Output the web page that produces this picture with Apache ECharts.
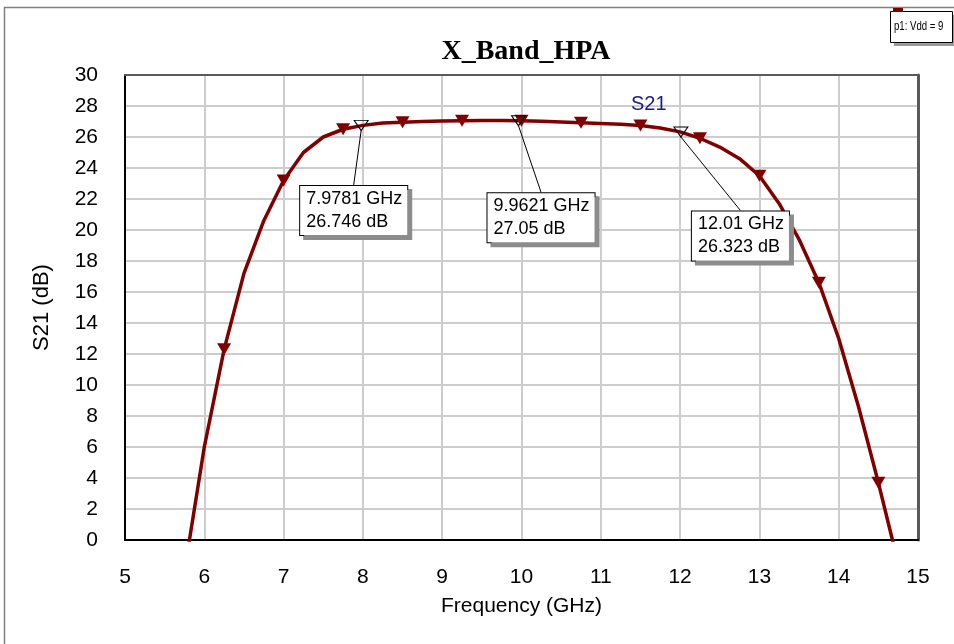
<!DOCTYPE html>
<html>
<head>
<meta charset="utf-8">
<title>X_Band_HPA</title>
<script src="https://cdn.jsdelivr.net/npm/echarts@6/dist/echarts.min.js"></script>
<style>
  html, body { margin: 0; padding: 0; background: #fff; }
  #chart { width: 954px; height: 644px; }
</style>
</head>
<body>
<div id="chart"></div>
<script>
// Swept frequency points (GHz) and measured S21 (dB)
const freqGHz = [5.75, 6.0, 6.25, 6.5, 6.75, 7.0, 7.25, 7.5, 7.75, 8.0, 8.25, 8.5, 8.75, 9.0, 9.25, 9.5,
  9.75, 10.0, 10.25, 10.5, 10.75, 11.0, 11.25, 11.5, 11.75, 12.0, 12.25, 12.5, 12.75, 13.0, 13.25,
  13.5, 13.75, 14.0, 14.25, 14.5, 14.75];
const s21dB = [-2.0, 6.0, 12.3, 17.2, 20.6, 23.2, 25.0, 26.0, 26.5, 26.75, 26.9, 26.95, 27.0, 27.03, 27.05, 27.06,
  27.06, 27.05, 27.02, 26.97, 26.92, 26.87, 26.82, 26.74, 26.58, 26.33, 25.92, 25.35, 24.6, 23.5, 21.7,
  19.4, 16.6, 13.0, 8.6, 3.7, -1.5];

// Trace symbols sit on every third sweep point
const symbolEvery = 3;
const symbolStart = 2;

// Marker readouts
const markerFreq = [7.9781, 9.9621, 12.01];
const markerS21 = [26.746, 27.05, 26.323];

// Axis ticks
const xTicks = { min: 5, max: 15, step: 1 };
const yTicks = { min: 0, max: 30, step: 2 };

// Callout box offsets from each marker (px)
const calloutOffset = [[-61, 85], [-31, 97], [11, 104]];

const curve = freqGHz.map((f, i) => [f, s21dB[i]]);
const traceSymbols = curve.filter((_, i) => i >= symbolStart && (i - symbolStart) % symbolEvery === 0);
const markers = markerFreq.map((f, i) => [f, markerS21[i]]);

const traceColor = '#800000';
const frameColor = '#5a5a5a';
const sans = 'Liberation Sans, Arial, sans-serif';

const chart = echarts.init(document.getElementById('chart'), null, { renderer: 'canvas' });

chart.setOption({
  animation: false,
  backgroundColor: '#fff',
  title: {
    text: 'X_Band_HPA',
    left: 521,
    top: 33,
    textAlign: 'center',
    textStyle: { fontFamily: 'Liberation Serif, Times New Roman, serif', fontWeight: 'bold', fontSize: 28, color: '#000' }
  },
  grid: { left: 125, right: 36, top: 75, bottom: 104 },
  xAxis: [
    {
      type: 'value',
      min: xTicks.min, max: xTicks.max, interval: xTicks.step,
      name: 'Frequency (GHz)',
      nameLocation: 'middle',
      nameGap: 56,
      nameTextStyle: { fontFamily: sans, fontSize: 21, color: '#000' },
      axisLine: { show: true, onZero: false, lineStyle: { color: '#000', width: 2 } },
      axisTick: { show: false },
      axisLabel: { fontFamily: sans, fontSize: 21, color: '#000', margin: 27 },
      splitLine: { show: true, lineStyle: { color: '#cdcdcd', width: 2 } }
    },
    {
      // top edge of the plot frame
      type: 'value', position: 'top',
      min: xTicks.min, max: xTicks.max, interval: xTicks.step,
      axisLine: { show: true, onZero: false, lineStyle: { color: frameColor, width: 2 } },
      axisTick: { show: false }, axisLabel: { show: false }, splitLine: { show: false }
    }
  ],
  yAxis: [
    {
      type: 'value',
      min: yTicks.min, max: yTicks.max, interval: yTicks.step,
      name: 'S21 (dB)',
      nameLocation: 'middle',
      nameGap: 72,
      nameTextStyle: { fontFamily: sans, fontSize: 22, color: '#000' },
      axisLine: { show: true, onZero: false, lineStyle: { color: '#000', width: 2 } },
      axisTick: { show: false },
      axisLabel: { fontFamily: sans, fontSize: 21, color: '#000', margin: 27 },
      splitLine: { show: true, lineStyle: { color: '#cdcdcd', width: 2 } }
    },
    {
      // right edge of the plot frame
      type: 'value', position: 'right',
      min: yTicks.min, max: yTicks.max, interval: yTicks.step,
      axisLine: { show: true, onZero: false, lineStyle: { color: frameColor, width: 3 } },
      axisTick: { show: false }, axisLabel: { show: false }, splitLine: { show: false }
    }
  ],
  series: [
    {
      name: 'S21',
      type: 'line',
      data: curve,
      showSymbol: false,
      clip: true,
      lineStyle: { color: traceColor, width: 3.5 },
      z: 3
    },
    {
      name: 'S21 symbols',
      type: 'scatter',
      data: traceSymbols,
      symbol: 'triangle',
      symbolRotate: 180,
      symbolSize: [14, 12],
      itemStyle: { color: traceColor, opacity: 1 },
      z: 4
    },
    {
      name: 'Markers',
      type: 'scatter',
      data: markers,
      symbol: 'triangle',
      symbolRotate: 180,
      symbolSize: [14, 10],
      itemStyle: { color: 'rgba(255,255,255,0)', borderColor: '#000', borderWidth: 1, opacity: 1 },
      z: 5,
      label: {
        show: true,
        position: 'inside',
        align: 'left',
        verticalAlign: 'middle',
        formatter: p => p.value[0] + ' GHz\n' + p.value[1] + ' dB',
        fontFamily: sans,
        fontSize: 18,
        lineHeight: 23,
        color: '#000',
        backgroundColor: '#fff',
        borderColor: '#000',
        borderWidth: 1,
        padding: [2, 5, 1, 6],
        shadowColor: '#8c8c8c',
        shadowOffsetX: 4,
        shadowOffsetY: 4,
        shadowBlur: 0
      },
      labelLine: { show: true, lineStyle: { color: '#000', width: 1 } },
      labelLayout: params => ({ dx: calloutOffset[params.dataIndex][0], dy: calloutOffset[params.dataIndex][1] })
    }
  ],
  graphic: [
    // outer sheet frame
    { type: 'polyline', shape: { points: [[4.5, 650], [4.5, 7.5], [960, 7.5]] },
      style: { stroke: '#808080', lineWidth: 1.5, fill: null }, z: 1 },
    // trace name
    { type: 'text', left: 631, top: 94,
      style: { text: 'S21', fontFamily: sans, fontSize: 20, fill: '#1a1a8c' }, z: 10 },
    // sweep parameter box
    { type: 'rect', shape: { x: 894, y: 15, width: 62, height: 31 }, style: { fill: '#9a9a9a' }, z: 10 },
    { type: 'rect', shape: { x: 890.5, y: 11.5, width: 62, height: 31 },
      style: { fill: '#fff', stroke: '#000', lineWidth: 1 }, z: 11 },
    { type: 'rect', shape: { x: 893, y: 8, width: 10, height: 4 }, style: { fill: traceColor }, z: 11 },
    { type: 'text', x: 894, y: 21, scaleX: 0.8,
      style: { text: 'p1: Vdd = 9', fontFamily: sans, fontSize: 12, fill: '#000' }, z: 12 }
  ]
});
</script>
</body>
</html>
